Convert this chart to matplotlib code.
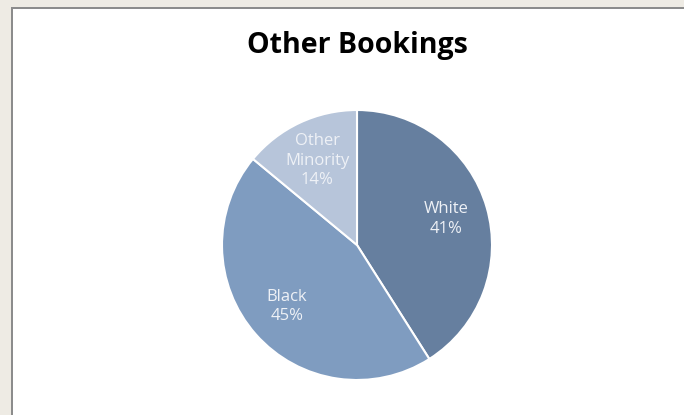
import matplotlib
matplotlib.use('Agg')
import matplotlib.pyplot as plt
from matplotlib.patches import Rectangle

# chart data
categories = ['White', 'Black', 'Other\nMinority']
shares = [41, 45, 14]
colors = ['#667f9f', '#7f9cc0', '#b7c5da']

W, H = 684, 415
fig = plt.figure(figsize=(W / 100, H / 100), dpi=100)
fig.patch.set_facecolor('#eeebe4')

# white chart area with grey frame on the left and top (kept behind the axes)
fig.add_artist(Rectangle((11 / W, 0), 1, (H - 7) / H, transform=fig.transFigure,
                         facecolor='#8c8c8c', edgecolor='none', zorder=-2))
fig.add_artist(Rectangle((13 / W, 0), 1, (H - 9) / H, transform=fig.transFigure,
                         facecolor='white', edgecolor='none', zorder=-1))

fig.text(357 / W, 1 - 46 / H, 'Other Bookings', ha='center', va='center',
         fontsize=20.5, fontweight='bold', family=['Open Sans', 'DejaVu Sans'])

# pie axes: centre (357,245), radius 135 px
r = 135
ax = fig.add_axes([(357 - r) / W, (H - 245 - r) / H, 2 * r / W, 2 * r / H])
labels = [f'{c}\n{s}%' for c, s in zip(categories, shares)]
wedges, texts = ax.pie(shares, labels=labels, colors=colors, startangle=90,
                       counterclock=False, labeldistance=0.69,
                       wedgeprops=dict(edgecolor='white', linewidth=1.5))
for t in texts:
    t.set_ha('center')
    t.set_va('center')
    t.set_color('#eef1f6')
    t.set_fontsize(12)
    t.set_family(['Open Sans', 'DejaVu Sans'])
    t.set_linespacing(1.3)
ax.set_xlim(-1, 1)
ax.set_ylim(-1, 1)
ax.set_aspect('equal')
ax.axis('off')

fig.savefig('out.png', dpi=100)
